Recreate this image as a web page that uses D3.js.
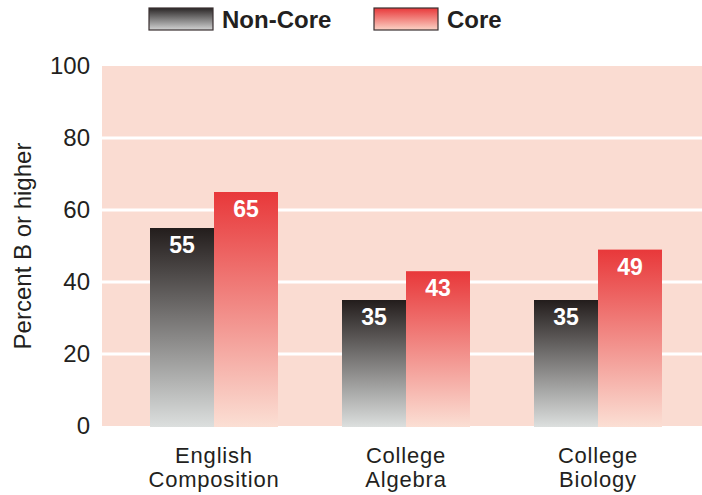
<!DOCTYPE html>
<html>
<head>
<meta charset="utf-8">
<script src="https://cdn.jsdelivr.net/npm/d3@7"></script>
<style>
  html, body { margin: 0; padding: 0; background: #ffffff; }
  svg { display: block; }
  text { font-family: "Liberation Sans", Arial, Helvetica, sans-serif; }
</style>
</head>
<body>
<svg id="chart" width="702" height="495"></svg>
<script>
// Share of students earning a B or higher, by course and preparation
const categories = [["English", "Composition"], ["College", "Algebra"], ["College", "Biology"]];
const seriesNames = ["Non-Core", "Core"];
const nonCoreValues = [55, 35, 35];
const coreValues = [65, 43, 49];
const yTicks = [0, 20, 40, 60, 80, 100];

const W = 702, H = 495;
const plot = { left: 102, right: 702, top: 66, bottom: 426 };
const svg = d3.select("#chart");
const defs = svg.append("defs");

function vGrad(id, top, bottom) {
  const g = defs.append("linearGradient").attr("id", id)
    .attr("x1", 0).attr("y1", 0).attr("x2", 0).attr("y2", 1);
  g.append("stop").attr("offset", "0%").attr("stop-color", top);
  g.append("stop").attr("offset", "100%").attr("stop-color", bottom);
}
vGrad("gNonCore", "#231d1c", "#dcdfde");
vGrad("gCore", "#e8383a", "#fbdfd4");
vGrad("gNonCoreKey", "#2a2626", "#d2d3d3");
vGrad("gCoreKey", "#e8383a", "#fbd3c6");

const y = d3.scaleLinear().domain([0, 100]).range([plot.bottom, plot.top]);
const x0 = d3.scaleBand().domain(d3.range(categories.length))
  .range([118, 694]).paddingInner(1 / 3).paddingOuter(1 / 6);
const x1 = d3.scaleBand().domain(seriesNames).range([0, x0.bandwidth()]);

// plot background
svg.append("rect")
  .attr("x", plot.left).attr("y", plot.top)
  .attr("width", plot.right - plot.left).attr("height", plot.bottom - plot.top)
  .attr("fill", "#fadcd2");

// horizontal gridlines
svg.append("g").selectAll("line")
  .data(yTicks.filter(t => t > 0 && t < 100))
  .join("line")
  .attr("x1", plot.left).attr("x2", plot.right)
  .attr("y1", d => y(d)).attr("y2", d => y(d))
  .attr("stroke", "#ffffff").attr("stroke-width", 3);

// y axis labels
const yAxis = d3.axisLeft(y).tickValues(yTicks).tickSize(0).tickPadding(0);
const gy = svg.append("g").attr("transform", "translate(90,0)").call(yAxis);
gy.select(".domain").remove();
gy.selectAll("text")
  .attr("font-size", 24).attr("fill", "#231f20")
  .attr("font-family", "'Liberation Sans', Arial, sans-serif");

svg.append("text")
  .attr("transform", `translate(31,${(plot.top + plot.bottom) / 2}) rotate(-90)`)
  .attr("text-anchor", "middle")
  .attr("font-size", 24).attr("fill", "#231f20")
  .text("Percent B or higher");

// bars
const rows = categories.map((c, i) => ({
  i, values: [
    { name: "Non-Core", v: nonCoreValues[i], fill: "url(#gNonCore)" },
    { name: "Core", v: coreValues[i], fill: "url(#gCore)" }
  ]
}));

const groups = svg.append("g").selectAll("g")
  .data(rows).join("g")
  .attr("transform", d => `translate(${x0(d.i)},0)`);

groups.selectAll("rect")
  .data(d => d.values).join("rect")
  .attr("x", d => x1(d.name))
  .attr("width", x1.bandwidth())
  .attr("y", d => y(d.v))
  .attr("height", d => y(0) - y(d.v) + 1)
  .attr("fill", d => d.fill);

groups.selectAll("text.val")
  .data(d => d.values).join("text")
  .attr("class", "val")
  .attr("x", d => x1(d.name) + x1.bandwidth() / 2)
  .attr("y", d => y(d.v) + 25)
  .attr("text-anchor", "middle")
  .attr("font-size", 23).attr("font-weight", "bold")
  .attr("fill", "#ffffff")
  .text(d => d.v);

// category labels, two lines each
const cat = svg.append("g").selectAll("text")
  .data(categories).join("text")
  .attr("x", (d, i) => x0(i) + x0.bandwidth() / 2)
  .attr("y", 463)
  .attr("text-anchor", "middle")
  .attr("font-size", 22).attr("letter-spacing", 0.8).attr("fill", "#231f20");
cat.selectAll("tspan").data(d => d).join("tspan")
  .attr("x", function () { return d3.select(this.parentNode).attr("x"); })
  .attr("dy", (d, j) => j === 0 ? 0 : 24)
  .text(d => d);

// legend
const legend = [
  { name: seriesNames[0], x: 149, fill: "url(#gNonCoreKey)" },
  { name: seriesNames[1], x: 374, fill: "url(#gCoreKey)" }
];
const lg = svg.append("g").selectAll("g").data(legend).join("g")
  .attr("transform", d => `translate(${d.x},8)`);
lg.append("rect")
  .attr("width", 64).attr("height", 22)
  .attr("fill", d => d.fill)
  .attr("stroke", "#3a3031").attr("stroke-width", 1.2);
lg.append("text")
  .attr("x", 73).attr("y", 20)
  .attr("font-size", 24).attr("font-weight", "bold").attr("fill", "#231f20")
  .text(d => d.name);
</script>
</body>
</html>
